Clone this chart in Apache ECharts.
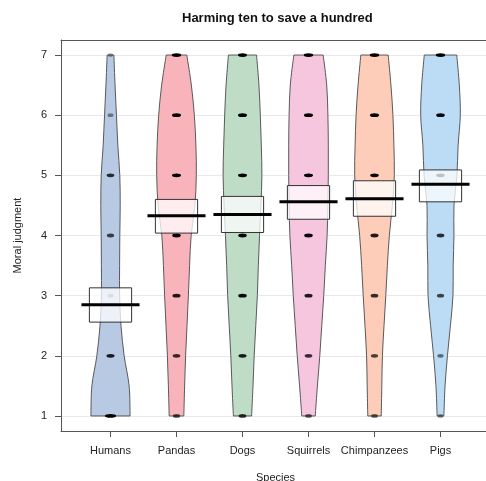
<!DOCTYPE html>
<html><head><meta charset="utf-8">
<script src="https://cdn.jsdelivr.net/npm/echarts@6/dist/echarts.min.js"></script>
<style>html,body{margin:0;padding:0;background:#fff;overflow:hidden}#c{width:486px;height:481px}</style>
</head><body><div id="c"></div>
<script>
// ---- data ----
const species = ['Humans', 'Pandas', 'Dogs', 'Squirrels', 'Chimpanzees', 'Pigs'];
const beanLevels = [1, 1.5, 2, 2.5, 3, 3.5, 4, 4.5, 5, 5.5, 6, 6.5, 7];
// relative density of judgments at each level (1 = widest bean)
const densHumans    = [0.99, 0.94, 0.69, 0.53, 0.46, 0.46, 0.47, 0.49, 0.47, 0.37, 0.30, 0.23, 0.17];
const densPandas    = [0.37, 0.41, 0.46, 0.53, 0.60, 0.66, 0.74, 0.93, 1.00, 0.98, 0.90, 0.75, 0.52];
const densDogs      = [0.46, 0.53, 0.59, 0.67, 0.75, 0.80, 0.86, 0.93, 0.98, 0.95, 0.90, 0.83, 0.71];
const densSquirrels = [0.34, 0.45, 0.57, 0.67, 0.77, 0.85, 0.94, 0.98, 1.00, 1.00, 0.98, 0.92, 0.74];
const densChimps    = [0.34, 0.37, 0.40, 0.48, 0.57, 0.65, 0.75, 0.90, 1.00, 0.98, 0.93, 0.83, 0.69];
const densPigs      = [0.17, 0.23, 0.35, 0.50, 0.63, 0.64, 0.68, 0.68, 0.83, 0.89, 1.00, 0.95, 0.82];
const densities = [densHumans, densPandas, densDogs, densSquirrels, densChimps, densPigs];

const pointValues = [1, 2, 3, 4, 5, 6, 7];
const countsHumans    = [14, 7, 2, 5, 6, 2, 1];
const countsPandas    = [5, 6, 7, 8, 9, 9, 10];
const countsDogs      = [6, 7, 8, 8, 9, 9, 9];
const countsSquirrels = [4, 6, 7, 8, 9, 9, 10];
const countsChimps    = [4, 5, 6, 7, 8, 9, 10];
const countsPigs      = [2, 3, 5, 6, 8, 8, 10];
const counts = [countsHumans, countsPandas, countsDogs, countsSquirrels, countsChimps, countsPigs];

const means    = [2.85, 4.33, 4.35, 4.56, 4.61, 4.85];
const bandLow  = [2.56, 4.04, 4.05, 4.27, 4.32, 4.56];
const bandHigh = [3.13, 4.60, 4.65, 4.83, 4.91, 5.09];
const yTicks = [1, 2, 3, 4, 5, 6, 7];

// ---- styles ----
const fills = ['#b8c9e3', '#f9b4bb', '#bfdcc7', '#f6c5de', '#fdcdb9', '#bcdcf5'];
const BEAN_W = 0.30, BAND_W = 0.32, LINE_W = 0.44;
const xPos = species.map((s, i) => i + 1);

function smoothPath(pts) {
  let d = '';
  for (let i = 0; i < pts.length - 1; i++) {
    const p0 = pts[Math.max(0, i - 1)], p1 = pts[i], p2 = pts[i + 1], p3 = pts[Math.min(pts.length - 1, i + 2)];
    const t = 1 / 6;
    const c1 = [p1[0] + (p2[0] - p0[0]) * t, p1[1] + (p2[1] - p0[1]) * t];
    const c2 = [p2[0] - (p3[0] - p1[0]) * t, p2[1] - (p3[1] - p1[1]) * t];
    d += ' C' + c1[0] + ' ' + c1[1] + ' ' + c2[0] + ' ' + c2[1] + ' ' + p2[0] + ' ' + p2[1];
  }
  return d;
}

const beanSeries = {
  type: 'custom', z: 2,
  data: xPos.map((x, i) => [x, i]),
  renderItem: function (params, api) {
    const x = api.value(0), i = api.value(1);
    const dens = densities[i];
    const right = beanLevels.map((lv, k) => api.coord([x + dens[k] * BEAN_W, lv]));
    const left = beanLevels.map((lv, k) => api.coord([x - dens[k] * BEAN_W, lv])).reverse();
    let d = 'M' + right[0][0] + ' ' + right[0][1] + smoothPath(right);
    d += ' L' + left[0][0] + ' ' + left[0][1] + smoothPath(left) + ' Z';
    return {
      type: 'path', shape: { pathData: d },
      style: { fill: fills[i], stroke: '#595959', lineWidth: 1 }
    };
  }
};

const pointData = [];
species.forEach((s, i) => {
  pointValues.forEach((v, k) => {
    const c = counts[i][k];
    pointData.push({
      value: [xPos[i], v, c],
      symbolSize: [5 + c * 0.45, 3.8],
      itemStyle: { opacity: Math.min(1, 0.25 + c * 0.09) }
    });
  });
});
const pointSeries = {
  type: 'scatter', z: 3, symbol: 'circle',
  data: pointData,
  itemStyle: { color: '#000' },
  silent: true
};

const bandSeries = {
  type: 'custom', z: 4,
  data: xPos.map((x, i) => [x, bandLow[i], bandHigh[i]]),
  renderItem: function (params, api) {
    const x = api.value(0);
    const p1 = api.coord([x - BAND_W, api.value(2)]);
    const p2 = api.coord([x + BAND_W, api.value(1)]);
    return {
      type: 'rect',
      shape: { x: p1[0], y: p1[1], width: p2[0] - p1[0], height: p2[1] - p1[1] },
      style: { fill: 'rgba(255,255,255,0.75)', stroke: '#333', lineWidth: 1 }
    };
  }
};

const meanSeries = {
  type: 'custom', z: 5,
  data: xPos.map((x, i) => [x, means[i]]),
  renderItem: function (params, api) {
    const x = api.value(0), m = api.value(1);
    const a = api.coord([x - LINE_W, m]), b = api.coord([x + LINE_W, m]);
    return {
      type: 'line',
      shape: { x1: a[0], y1: a[1], x2: b[0], y2: b[1] },
      style: { stroke: '#000', lineWidth: 3 }
    };
  }
};

const chart = echarts.init(document.getElementById('c'), null, { renderer: 'canvas' });
chart.setOption({
  animation: false,
  backgroundColor: '#fff',
  textStyle: { fontFamily: 'Liberation Sans, Arial, sans-serif' },
  title: {
    text: 'Harming ten to save a hundred',
    left: 177, top: 7,
    textStyle: { fontSize: 13, fontWeight: 'bold', color: '#111', fontFamily: 'Liberation Sans, Arial, sans-serif' }
  },
  grid: { left: 61, top: 40, right: -4, bottom: 50, outerBoundsMode: 'none', containLabel: false, show: false },
  xAxis: [{
    type: 'value', min: 0.25, max: 6.75,
    name: 'Species', nameLocation: 'middle', nameGap: 41,
    nameTextStyle: { fontSize: 11, color: '#222' },
    axisLine: { show: true, lineStyle: { color: '#555' } },
    axisTick: { show: true, customValues: xPos, length: 6, lineStyle: { color: '#555' } },
    axisLabel: { customValues: xPos, margin: 14, fontSize: 11, color: '#222',
      formatter: v => species[Math.round(v) - 1] || '' },
    splitLine: { show: false }
  }, {
    type: 'value', position: 'top', min: 0.25, max: 6.75,
    axisLine: { show: true, onZero: false, lineStyle: { color: '#555' } },
    axisTick: { show: false }, axisLabel: { show: false }, splitLine: { show: false }
  }],
  yAxis: {
    type: 'value', min: 0.75, max: 7.25,
    name: 'Moral judgment', nameLocation: 'middle', nameGap: 38,
    nameTextStyle: { fontSize: 11, color: '#222' },
    axisLine: { show: true, lineStyle: { color: '#555' } },
    axisTick: { show: true, customValues: yTicks, length: 6, lineStyle: { color: '#555' } },
    axisLabel: { customValues: yTicks, margin: 14, fontSize: 11, color: '#222' },
    splitLine: { show: true, lineStyle: { color: '#e8e8e8', width: 1 } }
  },
  series: [beanSeries, pointSeries, bandSeries, meanSeries]
});
</script></body></html>
